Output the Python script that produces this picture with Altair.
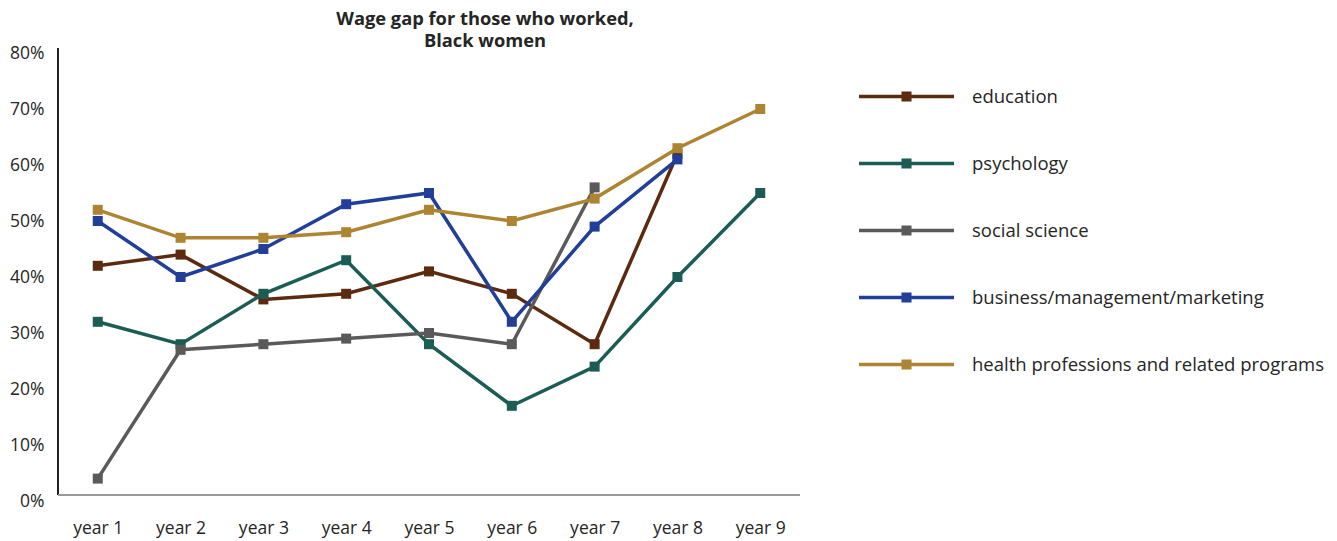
import altair as alt
import pandas as pd

years = ["year 1", "year 2", "year 3", "year 4", "year 5", "year 6", "year 7", "year 8", "year 9"]
series = [
    "education",
    "psychology",
    "social science",
    "business/management/marketing",
    "health professions and related programs",
]
colors = ["#5b2a0f", "#1b5d55", "#5a5a5a", "#213f99", "#ad8431"]

education = [42, 44, 36, 37, 41, 37, 28, 62, None]
psychology = [32, 28, 37, 43, 28, 17, 24, 40, 55]
social_science = [4, 27, 28, 29, 30, 28, 56, None, None]
business = [50, 40, 45, 53, 55, 32, 49, 61, None]
health = [52, 47, 47, 48, 52, 50, 54, 63, 70]

values = [education, psychology, social_science, business, health]

rows = []
for name, vals in zip(series, values):
    for yr, v in zip(years, vals):
        if v is not None:
            rows.append({"series": name, "year": yr, "gap": v})
df = pd.DataFrame(rows)

W, H = 742, 448
FONT = "Open Sans"
TEXT = "#252525"

legend = alt.Legend(
    title=None,
    orient="none",
    legendX=837,
    legendY=32,
    symbolType="M-5,0H5M-0.53,-0.34H0.53M-0.53,0.34H0.53",
    symbolSize=361,
    symbolStrokeWidth=3.5,
    labelFontSize=18.5,
    labelFont=FONT,
    labelColor=TEXT,
    labelOffset=54,
    rowPadding=45,
    labelLimit=600,
)

x_enc = alt.X(
    "year:N",
    sort=years,
    scale=alt.Scale(type="point", domain=years, padding=0.48),
    axis=alt.Axis(
        title=None, domain=False, ticks=False, grid=False, labelAngle=0,
        labelFontSize=17.5, labelFont=FONT, labelColor=TEXT, labelPadding=18,
    ),
)
y_enc = alt.Y(
    "gap:Q",
    scale=alt.Scale(domain=[0, 80], nice=False, zero=True),
    axis=alt.Axis(
        title=None, domain=False, ticks=False, grid=False,
        values=[0, 10, 20, 30, 40, 50, 60, 70, 80],
        labelExpr="datum.value + '%'",
        labelFontSize=17.5, labelFont=FONT, labelColor=TEXT, labelPadding=14,
    ),
)
color_enc = alt.Color(
    "series:N",
    scale=alt.Scale(domain=series, range=colors),
    sort=series,
    legend=legend,
)

# one line + square-marker layer per series, drawn in series order
layers = []
for name in series:
    base = alt.Chart(df).transform_filter(alt.datum.series == name)
    line = base.mark_line(strokeWidth=3.5).encode(x=x_enc, y=y_enc, color=color_enc)
    pts = base.mark_point(shape="square", filled=True, opacity=1, size=100).encode(
        x=x_enc, y=y_enc, color=color_enc
    )
    layers += [line, pts]

# axis lines
y_line = alt.Chart(df).mark_rule(color="#222222", strokeWidth=1.5).encode(
    x=alt.value(0), y=alt.value(-5), y2=alt.value(442)
)
x_line = alt.Chart(df).mark_rule(color="#9a9a9a", strokeWidth=2).encode(
    x=alt.value(0), x2=alt.value(W), y=alt.value(442)
)

chart = (
    alt.layer(y_line, x_line, *layers)
    .properties(
        width=W,
        height=H,
        background="white",
        title=alt.TitleParams(
            text=["Wage gap for those who worked,", "Black women"],
            font=FONT,
            fontSize=18.3,
            fontWeight="bold",
            color=TEXT,
            anchor="middle",
            frame="group",
            dx=56,
            offset=-7,
            lineHeight=22,
        ),
        autosize=alt.AutoSizeParams(type="none"),
        padding={"left": 58, "top": 53, "right": 1337 - 58 - W, "bottom": 541 - 53 - H},
    )
    .configure_view(stroke=None, strokeWidth=0)
)

chart.save("out.html", embed_options={"renderer": "svg", "actions": False})
